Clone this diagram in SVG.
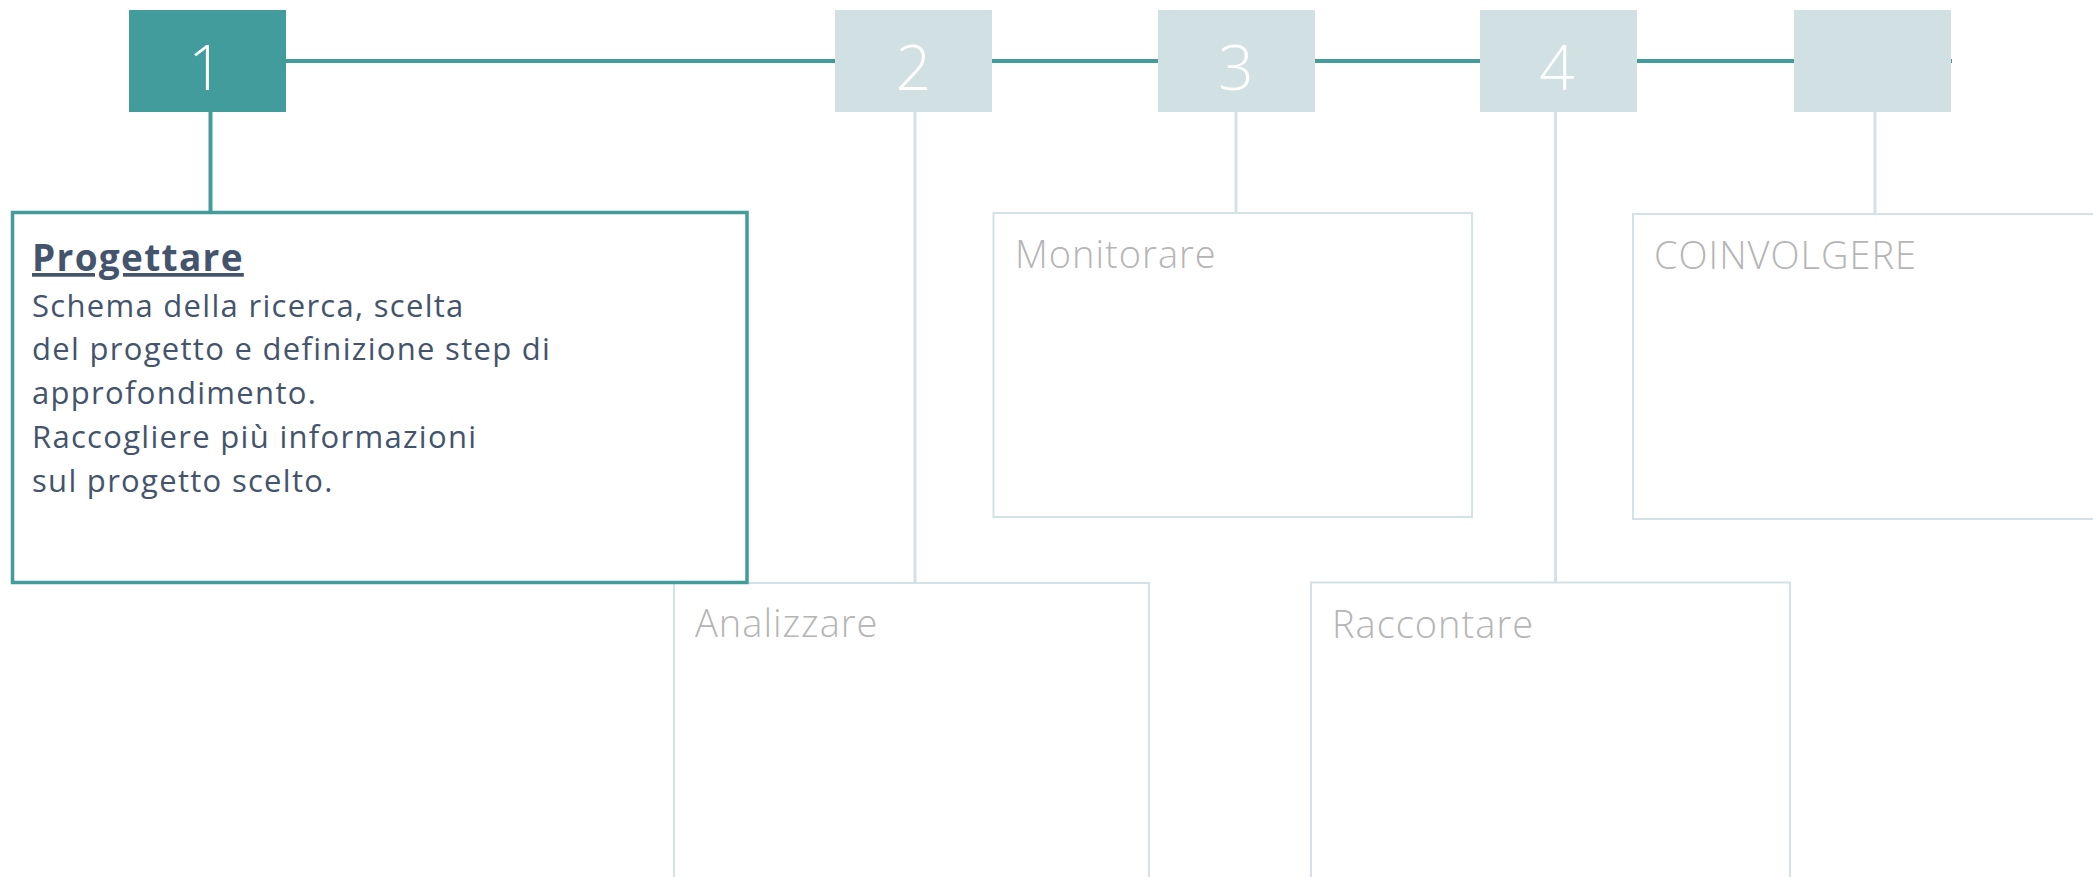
<svg xmlns="http://www.w3.org/2000/svg" width="2093" height="877" viewBox="0 0 2093 877">
<style>
.num{font-family:"Open Sans","Liberation Sans",sans-serif;font-weight:300;font-size:62px;fill:#ffffff;text-anchor:middle}
.stepA{fill:#439c9c}
.stepB{fill:#d1e0e3}
.card{fill:#ffffff;stroke:#d3e2e6;stroke-width:2}
.cardA{fill:#ffffff;stroke:#439c9c;stroke-width:3.5}
.ttl{font-family:"Open Sans","Liberation Sans",sans-serif;font-weight:300;font-size:38px;fill:#b5b5b5;letter-spacing:1px}
.head{font-family:"Open Sans","Liberation Sans",sans-serif;font-weight:700;font-size:37px;fill:#44546c;letter-spacing:1.3px;text-decoration:underline}
.body{font-family:"Open Sans","Liberation Sans",sans-serif;font-size:31px;fill:#44546c;letter-spacing:1.3px}
.lnA{stroke:#439c9c;stroke-width:4;fill:none}
.lnB{stroke:#d3e2e6;stroke-width:3;fill:none}
</style>
<rect width="2093" height="877" fill="#ffffff"/>
<g id="connectors">
<line class="lnA" x1="286" y1="61" x2="1952" y2="61"/>
<line class="lnA" x1="210.5" y1="112" x2="210.5" y2="213"/>
<line class="lnB" x1="915" y1="112" x2="915" y2="583"/>
<line class="lnB" x1="1236" y1="112" x2="1236" y2="213"/>
<line class="lnB" x1="1555.5" y1="112" x2="1555.5" y2="583"/>
<line class="lnB" x1="1875" y1="112" x2="1875" y2="213"/>
</g>
<g id="step1"><rect class="stepA" x="129" y="10" width="157" height="102"/><text class="num" x="206" y="90">1</text></g>
<g id="step2"><rect class="stepB" x="835" y="10" width="157" height="102"/><text class="num" x="913.5" y="90">2</text></g>
<g id="step3"><rect class="stepB" x="1158" y="10" width="157" height="102"/><text class="num" x="1236" y="90">3</text></g>
<g id="step4"><rect class="stepB" x="1480" y="10" width="157" height="102"/><text class="num" x="1557" y="90">4</text></g>
<g id="step5"><rect class="stepB" x="1794" y="10" width="157" height="102"/></g>
<g id="card-analizzare"><rect class="card" x="674" y="583" width="475" height="320"/><text class="ttl" x="695" y="637">Analizzare</text></g>
<g id="card-raccontare"><rect class="card" x="1311" y="582.5" width="479" height="320"/><text class="ttl" x="1332" y="638">Raccontare</text></g>
<g id="card-monitorare"><rect class="card" x="993.5" y="213" width="478.5" height="304"/><text class="ttl" x="1015" y="268">Monitorare</text></g>
<g id="card-coinvolgere"><rect class="card" x="1633" y="214" width="480" height="305"/><text class="ttl" x="1654" y="269">COINVOLGERE</text></g>
<g id="card-progettare"><rect class="cardA" x="12.5" y="212.5" width="734.5" height="370"/>
<text class="head" x="32" y="271">Progettare</text>
<text class="body" x="32" y="317">Schema della ricerca, scelta</text>
<text class="body" x="32" y="360">del progetto e definizione step di</text>
<text class="body" x="32" y="404">approfondimento.</text>
<text class="body" x="32" y="448">Raccogliere più informazioni</text>
<text class="body" x="32" y="492">sul progetto scelto.</text>
</g>
</svg>
